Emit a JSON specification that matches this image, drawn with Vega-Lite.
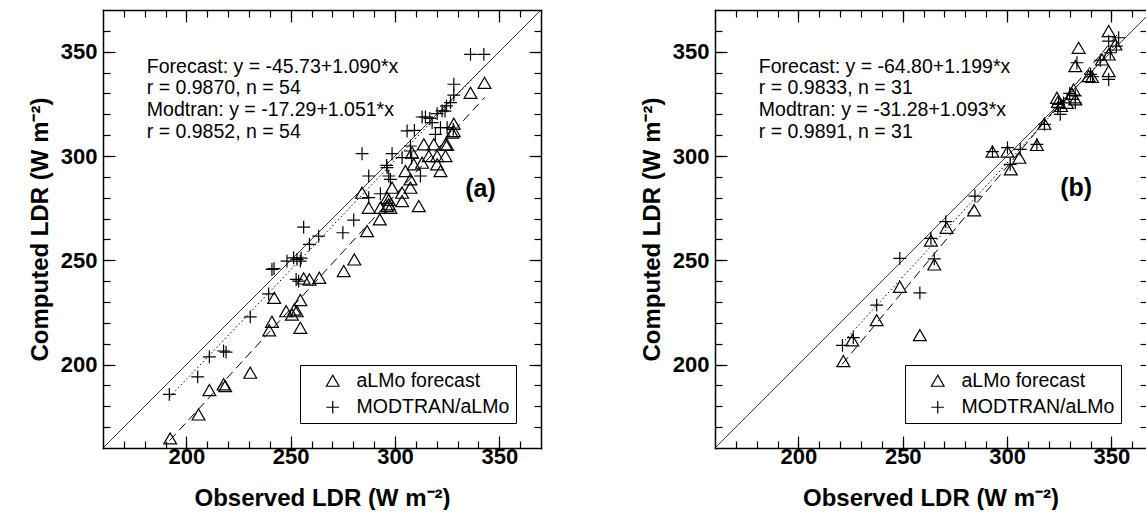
{
  "$schema": "https://vega.github.io/schema/vega-lite/v6.json",
  "background": "white",
  "padding": {"left": 28, "top": 8, "right": 0, "bottom": 0},
  "spacing": 97,
  "config": {
    "view": {"stroke": null},
    "axis": {
      "labelFont": "Liberation Sans", "labelFontSize": 22, "labelFontWeight": "bold", "labelColor": "black",
      "titleFont": "Liberation Sans", "titleFontSize": 24, "titleFontWeight": "bold", "titleColor": "black",
      "domainColor": "black", "domainWidth": 1.5, "domainCap": "square", "tickColor": "black", "tickWidth": 1.2, "grid": false
    },
    "legend": {
      "orient": "bottom-right", "offset": 25, "padding": 6, "strokeColor": "black",
      "labelFont": "Liberation Sans", "labelFontSize": 19.5, "labelColor": "black", "labelLimit": 400,
      "symbolOffset": 17, "labelOffset": 14, "rowPadding": 5.5, "symbolSize": 160, "symbolStrokeWidth": 1.2,
      "symbolStrokeColor": "black", "symbolFillColor": "transparent", "title": null
    }
  },
  "datasets": {
    "a_pts": [
      {"obs": 192.2, "comp": 164.6, "series": "aLMo forecast"},
      {"obs": 205.8, "comp": 176.1, "series": "aLMo forecast"},
      {"obs": 211.0, "comp": 187.8, "series": "aLMo forecast"},
      {"obs": 217.8, "comp": 190.5, "series": "aLMo forecast"},
      {"obs": 218.6, "comp": 189.7, "series": "aLMo forecast"},
      {"obs": 230.6, "comp": 196.1, "series": "aLMo forecast"},
      {"obs": 239.7, "comp": 216.4, "series": "aLMo forecast"},
      {"obs": 241.0, "comp": 220.5, "series": "aLMo forecast"},
      {"obs": 242.1, "comp": 232.0, "series": "aLMo forecast"},
      {"obs": 247.8, "comp": 225.6, "series": "aLMo forecast"},
      {"obs": 250.6, "comp": 224.0, "series": "aLMo forecast"},
      {"obs": 251.7, "comp": 226.4, "series": "aLMo forecast"},
      {"obs": 252.9, "comp": 225.6, "series": "aLMo forecast"},
      {"obs": 254.6, "comp": 230.9, "series": "aLMo forecast"},
      {"obs": 254.6, "comp": 217.6, "series": "aLMo forecast"},
      {"obs": 256.2, "comp": 241.3, "series": "aLMo forecast"},
      {"obs": 259.0, "comp": 240.8, "series": "aLMo forecast"},
      {"obs": 263.7, "comp": 241.6, "series": "aLMo forecast"},
      {"obs": 275.4, "comp": 244.8, "series": "aLMo forecast"},
      {"obs": 280.5, "comp": 250.4, "series": "aLMo forecast"},
      {"obs": 342.9, "comp": 335.1, "series": "aLMo forecast"},
      {"obs": 336.2, "comp": 330.3, "series": "aLMo forecast"},
      {"obs": 328.2, "comp": 315.5, "series": "aLMo forecast"},
      {"obs": 328.2, "comp": 312.0, "series": "aLMo forecast"},
      {"obs": 327.4, "comp": 311.2, "series": "aLMo forecast"},
      {"obs": 324.2, "comp": 305.6, "series": "aLMo forecast"},
      {"obs": 325.0, "comp": 305.3, "series": "aLMo forecast"},
      {"obs": 313.8, "comp": 305.6, "series": "aLMo forecast"},
      {"obs": 318.6, "comp": 305.6, "series": "aLMo forecast"},
      {"obs": 308.2, "comp": 301.6, "series": "aLMo forecast"},
      {"obs": 316.2, "comp": 300.0, "series": "aLMo forecast"},
      {"obs": 320.2, "comp": 300.0, "series": "aLMo forecast"},
      {"obs": 324.2, "comp": 300.0, "series": "aLMo forecast"},
      {"obs": 313.0, "comp": 296.8, "series": "aLMo forecast"},
      {"obs": 320.2, "comp": 296.0, "series": "aLMo forecast"},
      {"obs": 321.8, "comp": 292.8, "series": "aLMo forecast"},
      {"obs": 309.0, "comp": 296.0, "series": "aLMo forecast"},
      {"obs": 305.0, "comp": 292.8, "series": "aLMo forecast"},
      {"obs": 307.4, "comp": 288.8, "series": "aLMo forecast"},
      {"obs": 307.4, "comp": 284.8, "series": "aLMo forecast"},
      {"obs": 303.4, "comp": 282.4, "series": "aLMo forecast"},
      {"obs": 298.6, "comp": 284.8, "series": "aLMo forecast"},
      {"obs": 296.2, "comp": 280.0, "series": "aLMo forecast"},
      {"obs": 297.0, "comp": 276.8, "series": "aLMo forecast"},
      {"obs": 297.8, "comp": 275.2, "series": "aLMo forecast"},
      {"obs": 296.2, "comp": 276.0, "series": "aLMo forecast"},
      {"obs": 303.4, "comp": 278.4, "series": "aLMo forecast"},
      {"obs": 311.4, "comp": 276.0, "series": "aLMo forecast"},
      {"obs": 293.0, "comp": 275.2, "series": "aLMo forecast"},
      {"obs": 284.2, "comp": 282.4, "series": "aLMo forecast"},
      {"obs": 287.4, "comp": 275.2, "series": "aLMo forecast"},
      {"obs": 292.7, "comp": 269.6, "series": "aLMo forecast"},
      {"obs": 286.6, "comp": 264.0, "series": "aLMo forecast"},
      {"obs": 297.0, "comp": 279.0, "series": "aLMo forecast"},
      {"obs": 191.8, "comp": 185.7, "series": "MODTRAN/aLMo"},
      {"obs": 205.4, "comp": 194.1, "series": "MODTRAN/aLMo"},
      {"obs": 211.0, "comp": 203.7, "series": "MODTRAN/aLMo"},
      {"obs": 217.8, "comp": 206.5, "series": "MODTRAN/aLMo"},
      {"obs": 219.0, "comp": 206.0, "series": "MODTRAN/aLMo"},
      {"obs": 230.6, "comp": 222.9, "series": "MODTRAN/aLMo"},
      {"obs": 239.4, "comp": 233.9, "series": "MODTRAN/aLMo"},
      {"obs": 241.0, "comp": 245.6, "series": "MODTRAN/aLMo"},
      {"obs": 242.0, "comp": 246.0, "series": "MODTRAN/aLMo"},
      {"obs": 248.2, "comp": 249.6, "series": "MODTRAN/aLMo"},
      {"obs": 251.4, "comp": 251.2, "series": "MODTRAN/aLMo"},
      {"obs": 253.0, "comp": 250.4, "series": "MODTRAN/aLMo"},
      {"obs": 254.6, "comp": 249.6, "series": "MODTRAN/aLMo"},
      {"obs": 252.6, "comp": 240.8, "series": "MODTRAN/aLMo"},
      {"obs": 253.8, "comp": 240.0, "series": "MODTRAN/aLMo"},
      {"obs": 256.2, "comp": 265.9, "series": "MODTRAN/aLMo"},
      {"obs": 259.0, "comp": 257.6, "series": "MODTRAN/aLMo"},
      {"obs": 263.4, "comp": 261.6, "series": "MODTRAN/aLMo"},
      {"obs": 275.0, "comp": 263.2, "series": "MODTRAN/aLMo"},
      {"obs": 280.2, "comp": 269.3, "series": "MODTRAN/aLMo"},
      {"obs": 336.2, "comp": 348.7, "series": "MODTRAN/aLMo"},
      {"obs": 342.6, "comp": 348.7, "series": "MODTRAN/aLMo"},
      {"obs": 328.2, "comp": 334.4, "series": "MODTRAN/aLMo"},
      {"obs": 328.2, "comp": 329.2, "series": "MODTRAN/aLMo"},
      {"obs": 326.6, "comp": 325.6, "series": "MODTRAN/aLMo"},
      {"obs": 324.7, "comp": 324.0, "series": "MODTRAN/aLMo"},
      {"obs": 322.6, "comp": 321.6, "series": "MODTRAN/aLMo"},
      {"obs": 320.2, "comp": 320.3, "series": "MODTRAN/aLMo"},
      {"obs": 316.7, "comp": 318.0, "series": "MODTRAN/aLMo"},
      {"obs": 313.0, "comp": 318.7, "series": "MODTRAN/aLMo"},
      {"obs": 314.6, "comp": 318.7, "series": "MODTRAN/aLMo"},
      {"obs": 317.8, "comp": 316.0, "series": "MODTRAN/aLMo"},
      {"obs": 305.8, "comp": 312.0, "series": "MODTRAN/aLMo"},
      {"obs": 309.3, "comp": 312.3, "series": "MODTRAN/aLMo"},
      {"obs": 321.8, "comp": 313.6, "series": "MODTRAN/aLMo"},
      {"obs": 325.0, "comp": 313.6, "series": "MODTRAN/aLMo"},
      {"obs": 327.9, "comp": 312.8, "series": "MODTRAN/aLMo"},
      {"obs": 319.4, "comp": 310.4, "series": "MODTRAN/aLMo"},
      {"obs": 284.2, "comp": 301.1, "series": "MODTRAN/aLMo"},
      {"obs": 298.6, "comp": 301.1, "series": "MODTRAN/aLMo"},
      {"obs": 303.4, "comp": 299.2, "series": "MODTRAN/aLMo"},
      {"obs": 307.4, "comp": 302.4, "series": "MODTRAN/aLMo"},
      {"obs": 307.4, "comp": 304.8, "series": "MODTRAN/aLMo"},
      {"obs": 296.2, "comp": 294.4, "series": "MODTRAN/aLMo"},
      {"obs": 297.0, "comp": 290.4, "series": "MODTRAN/aLMo"},
      {"obs": 297.8, "comp": 288.8, "series": "MODTRAN/aLMo"},
      {"obs": 287.4, "comp": 290.4, "series": "MODTRAN/aLMo"},
      {"obs": 312.2, "comp": 290.4, "series": "MODTRAN/aLMo"},
      {"obs": 293.0, "comp": 281.9, "series": "MODTRAN/aLMo"},
      {"obs": 287.4, "comp": 280.0, "series": "MODTRAN/aLMo"},
      {"obs": 296.0, "comp": 295.5, "series": "MODTRAN/aLMo"},
      {"obs": 255.0, "comp": 251.0, "series": "MODTRAN/aLMo"},
      {"obs": 308.0, "comp": 299.0, "series": "MODTRAN/aLMo"},
      {"obs": 324.0, "comp": 321.5, "series": "MODTRAN/aLMo"}
    ],
    "b_pts": [
      {"obs": 221.5, "comp": 201.7, "series": "aLMo forecast"},
      {"obs": 225.8, "comp": 211.6, "series": "aLMo forecast"},
      {"obs": 237.5, "comp": 221.3, "series": "aLMo forecast"},
      {"obs": 248.6, "comp": 237.3, "series": "aLMo forecast"},
      {"obs": 258.2, "comp": 214.1, "series": "aLMo forecast"},
      {"obs": 265.1, "comp": 248.0, "series": "aLMo forecast"},
      {"obs": 263.5, "comp": 259.5, "series": "aLMo forecast"},
      {"obs": 271.0, "comp": 265.6, "series": "aLMo forecast"},
      {"obs": 284.2, "comp": 274.0, "series": "aLMo forecast"},
      {"obs": 293.0, "comp": 302.1, "series": "aLMo forecast"},
      {"obs": 300.2, "comp": 302.1, "series": "aLMo forecast"},
      {"obs": 301.8, "comp": 293.6, "series": "aLMo forecast"},
      {"obs": 305.9, "comp": 299.2, "series": "aLMo forecast"},
      {"obs": 314.3, "comp": 305.3, "series": "aLMo forecast"},
      {"obs": 317.9, "comp": 315.5, "series": "aLMo forecast"},
      {"obs": 323.9, "comp": 327.9, "series": "aLMo forecast"},
      {"obs": 324.4, "comp": 326.0, "series": "aLMo forecast"},
      {"obs": 325.9, "comp": 324.0, "series": "aLMo forecast"},
      {"obs": 328.7, "comp": 325.5, "series": "aLMo forecast"},
      {"obs": 331.9, "comp": 331.9, "series": "aLMo forecast"},
      {"obs": 332.7, "comp": 327.2, "series": "aLMo forecast"},
      {"obs": 334.3, "comp": 351.9, "series": "aLMo forecast"},
      {"obs": 332.7, "comp": 343.1, "series": "aLMo forecast"},
      {"obs": 339.1, "comp": 338.3, "series": "aLMo forecast"},
      {"obs": 340.7, "comp": 337.9, "series": "aLMo forecast"},
      {"obs": 345.5, "comp": 346.3, "series": "aLMo forecast"},
      {"obs": 348.7, "comp": 348.7, "series": "aLMo forecast"},
      {"obs": 348.7, "comp": 340.7, "series": "aLMo forecast"},
      {"obs": 348.7, "comp": 359.9, "series": "aLMo forecast"},
      {"obs": 351.9, "comp": 353.5, "series": "aLMo forecast"},
      {"obs": 331.1, "comp": 329.8, "series": "aLMo forecast"},
      {"obs": 221.1, "comp": 209.2, "series": "MODTRAN/aLMo"},
      {"obs": 226.3, "comp": 212.9, "series": "MODTRAN/aLMo"},
      {"obs": 237.5, "comp": 228.5, "series": "MODTRAN/aLMo"},
      {"obs": 248.6, "comp": 250.9, "series": "MODTRAN/aLMo"},
      {"obs": 258.2, "comp": 234.4, "series": "MODTRAN/aLMo"},
      {"obs": 265.1, "comp": 250.7, "series": "MODTRAN/aLMo"},
      {"obs": 263.5, "comp": 260.5, "series": "MODTRAN/aLMo"},
      {"obs": 270.6, "comp": 268.5, "series": "MODTRAN/aLMo"},
      {"obs": 284.6, "comp": 280.8, "series": "MODTRAN/aLMo"},
      {"obs": 293.0, "comp": 302.1, "series": "MODTRAN/aLMo"},
      {"obs": 300.2, "comp": 304.0, "series": "MODTRAN/aLMo"},
      {"obs": 301.5, "comp": 296.0, "series": "MODTRAN/aLMo"},
      {"obs": 306.3, "comp": 303.2, "series": "MODTRAN/aLMo"},
      {"obs": 314.3, "comp": 305.6, "series": "MODTRAN/aLMo"},
      {"obs": 317.9, "comp": 315.2, "series": "MODTRAN/aLMo"},
      {"obs": 324.3, "comp": 323.2, "series": "MODTRAN/aLMo"},
      {"obs": 325.5, "comp": 320.0, "series": "MODTRAN/aLMo"},
      {"obs": 327.1, "comp": 325.5, "series": "MODTRAN/aLMo"},
      {"obs": 332.7, "comp": 328.8, "series": "MODTRAN/aLMo"},
      {"obs": 332.7, "comp": 325.5, "series": "MODTRAN/aLMo"},
      {"obs": 333.5, "comp": 344.7, "series": "MODTRAN/aLMo"},
      {"obs": 340.0, "comp": 339.1, "series": "MODTRAN/aLMo"},
      {"obs": 344.7, "comp": 345.9, "series": "MODTRAN/aLMo"},
      {"obs": 348.7, "comp": 355.1, "series": "MODTRAN/aLMo"},
      {"obs": 348.7, "comp": 336.7, "series": "MODTRAN/aLMo"},
      {"obs": 353.5, "comp": 356.7, "series": "MODTRAN/aLMo"},
      {"obs": 352.4, "comp": 352.7, "series": "MODTRAN/aLMo"},
      {"obs": 349.5, "comp": 349.5, "series": "MODTRAN/aLMo"},
      {"obs": 324.7, "comp": 324.7, "series": "MODTRAN/aLMo"},
      {"obs": 341.0, "comp": 338.0, "series": "MODTRAN/aLMo"},
      {"obs": 330.0, "comp": 330.0, "series": "MODTRAN/aLMo"}
    ],
    "a_lines": [
      {"obs": 160, "comp": 160, "k": "one"},
      {"obs": 370, "comp": 370, "k": "one"},
      {"obs": 192, "comp": 184.5, "k": "mod"},
      {"obs": 343, "comp": 343.2, "k": "mod"},
      {"obs": 192, "comp": 163.6, "k": "fc"},
      {"obs": 343, "comp": 328.1, "k": "fc"}
    ],
    "b_lines": [
      {"obs": 160, "comp": 160, "k": "one"},
      {"obs": 366.6, "comp": 366.6, "k": "one"},
      {"obs": 221, "comp": 210.3, "k": "mod"},
      {"obs": 354, "comp": 355.6, "k": "mod"},
      {"obs": 221, "comp": 200.2, "k": "fc"},
      {"obs": 354, "comp": 359.6, "k": "fc"}
    ]
  },
  "resolve": {
    "scale": {"x": "independent", "y": "independent", "shape": "independent", "strokeDash": "independent"},
    "legend": {"shape": "independent"}
  },
  "hconcat": [
    {
      "width": 438, "height": 438,
      "resolve": {"axis": {"x": "independent", "y": "independent"}},
      "layer": [
        {
          "data": {"name": "a_lines"},
          "mark": {"type": "line", "color": "black", "strokeWidth": 1},
          "encoding": {
            "x": {"field": "obs", "type": "quantitative", "scale": {"domain": [160, 370], "nice": false, "zero": false},
              "axis": {"orient": "top", "title": null, "labels": false, "tickSize": -7, "values": [170,180,190,200,210,220,230,240,250,260,270,280,290,300,310,320,330,340,350,360]}},
            "y": {"field": "comp", "type": "quantitative", "scale": {"domain": [160, 370], "nice": false, "zero": false},
              "axis": {"orient": "right", "title": null, "labels": false, "tickSize": -7, "values": [170,180,190,200,210,220,230,240,250,260,270,280,290,300,310,320,330,340,350,360]}},
            "strokeDash": {"field": "k", "type": "nominal", "scale": {"domain": ["one", "mod", "fc"], "range": [[1, 0], [1.5, 2.5], [9, 5]]}, "legend": null}
          }
        },
        {
          "data": {"name": "a_pts"},
          "mark": {"type": "point", "filled": false, "stroke": "black", "strokeWidth": 1.2, "opacity": 1, "size": 165},
          "encoding": {
            "x": {"field": "obs", "type": "quantitative", "scale": {"domain": [160, 370], "nice": false, "zero": false},
              "axis": {"orient": "bottom", "title": "Observed LDR (W m⁻²)", "titlePadding": 19, "labelPadding": 5, "tickSize": -7, "values": [170,180,190,200,210,220,230,240,250,260,270,280,290,300,310,320,330,340,350,360],
                "labelExpr": "datum.value % 50 === 0 ? datum.label : ''"}},
            "y": {"field": "comp", "type": "quantitative", "scale": {"domain": [160, 370], "nice": false, "zero": false},
              "axis": {"orient": "left", "title": "Computed LDR (W m⁻²)", "titlePadding": 8, "labelPadding": 13, "tickSize": -7, "values": [170,180,190,200,210,220,230,240,250,260,270,280,290,300,310,320,330,340,350,360],
                "labelExpr": "datum.value % 50 === 0 ? datum.label : ''"}},
            "shape": {"field": "series", "type": "nominal", "scale": {"domain": ["aLMo forecast", "MODTRAN/aLMo"], "range": ["triangle-up", "M-1,0H1M0,-1V1"]}}
          }
        },
        {
          "data": {"values": [{"panel": "a"}]},
          "mark": {"type": "text", "align": "left", "baseline": "alphabetic", "font": "Liberation Sans", "fontSize": 19.5, "lineHeight": 21.7, "color": "black"},
          "encoding": {
            "x": {"datum": 181, "type": "quantitative", "scale": {"domain": [160, 370], "nice": false, "zero": false},
              "axis": {"orient": "bottom", "title": null, "labels": false, "domain": false, "tickSize": -12, "values": [200, 250, 300, 350]}},
            "y": {"datum": 339.9, "type": "quantitative", "scale": {"domain": [160, 370], "nice": false, "zero": false},
              "axis": {"orient": "left", "title": null, "labels": false, "domain": false, "tickSize": -12, "values": [200, 250, 300, 350]}},
            "text": {"value": ["Forecast: y = -45.73+1.090*x", "r = 0.9870, n = 54", "Modtran: y = -17.29+1.051*x", "r = 0.9852, n = 54"]}
          }
        },
        {
          "data": {"values": [{"panel": "a"}]},
          "mark": {"type": "text", "align": "center", "baseline": "middle", "font": "Liberation Sans", "fontSize": 25, "fontWeight": "bold", "color": "black"},
          "encoding": {
            "x": {"datum": 341, "type": "quantitative", "scale": {"domain": [160, 370], "nice": false, "zero": false},
              "axis": {"orient": "top", "title": null, "labels": false, "domain": false, "tickSize": -12, "values": [200, 250, 300, 350]}},
            "y": {"datum": 284.1, "type": "quantitative", "scale": {"domain": [160, 370], "nice": false, "zero": false},
              "axis": {"orient": "right", "title": null, "labels": false, "domain": false, "tickSize": -12, "values": [200, 250, 300, 350]}},
            "text": {"value": "(a)"}
          }
        }
      ]
    },
    {
      "width": 431, "height": 438,
      "resolve": {"axis": {"x": "independent", "y": "independent"}},
      "layer": [
        {
          "data": {"name": "b_lines"},
          "mark": {"type": "line", "color": "black", "strokeWidth": 1},
          "encoding": {
            "x": {"field": "obs", "type": "quantitative", "scale": {"domain": [160, 366.6], "nice": false, "zero": false},
              "axis": {"orient": "top", "title": null, "labels": false, "tickSize": -7, "values": [170,180,190,200,210,220,230,240,250,260,270,280,290,300,310,320,330,340,350,360]}},
            "y": {"field": "comp", "type": "quantitative", "scale": {"domain": [160, 370], "nice": false, "zero": false},
              "axis": {"orient": "right", "title": null, "labels": false, "domain": false, "tickSize": -6, "values": [170,180,190,200,210,220,230,240,250,260,270,280,290,300,310,320,330,340,350,360]}},
            "strokeDash": {"field": "k", "type": "nominal", "scale": {"domain": ["one", "mod", "fc"], "range": [[1, 0], [1.5, 2.5], [9, 5]]}, "legend": null}
          }
        },
        {
          "data": {"name": "b_pts"},
          "mark": {"type": "point", "filled": false, "stroke": "black", "strokeWidth": 1.2, "opacity": 1, "size": 165},
          "encoding": {
            "x": {"field": "obs", "type": "quantitative", "scale": {"domain": [160, 366.6], "nice": false, "zero": false},
              "axis": {"orient": "bottom", "title": "Observed LDR (W m⁻²)", "titlePadding": 19, "labelPadding": 5, "tickSize": -7, "values": [170,180,190,200,210,220,230,240,250,260,270,280,290,300,310,320,330,340,350,360],
                "labelExpr": "datum.value % 50 === 0 ? datum.label : ''"}},
            "y": {"field": "comp", "type": "quantitative", "scale": {"domain": [160, 370], "nice": false, "zero": false},
              "axis": {"orient": "left", "title": "Computed LDR (W m⁻²)", "titlePadding": 8, "labelPadding": 13, "tickSize": -7, "values": [170,180,190,200,210,220,230,240,250,260,270,280,290,300,310,320,330,340,350,360],
                "labelExpr": "datum.value % 50 === 0 ? datum.label : ''"}},
            "shape": {"field": "series", "type": "nominal", "scale": {"domain": ["aLMo forecast", "MODTRAN/aLMo"], "range": ["triangle-up", "M-1,0H1M0,-1V1"]}}
          }
        },
        {
          "data": {"values": [{"panel": "b"}]},
          "mark": {"type": "text", "align": "left", "baseline": "alphabetic", "font": "Liberation Sans", "fontSize": 19.5, "lineHeight": 21.7, "color": "black"},
          "encoding": {
            "x": {"datum": 181, "type": "quantitative", "scale": {"domain": [160, 366.6], "nice": false, "zero": false},
              "axis": {"orient": "bottom", "title": null, "labels": false, "domain": false, "tickSize": -12, "values": [200, 250, 300, 350]}},
            "y": {"datum": 339.9, "type": "quantitative", "scale": {"domain": [160, 370], "nice": false, "zero": false},
              "axis": {"orient": "left", "title": null, "labels": false, "domain": false, "tickSize": -12, "values": [200, 250, 300, 350]}},
            "text": {"value": ["Forecast: y = -64.80+1.199*x", "r = 0.9833, n = 31", "Modtran: y = -31.28+1.093*x", "r = 0.9891, n = 31"]}
          }
        },
        {
          "data": {"values": [{"panel": "b"}]},
          "mark": {"type": "text", "align": "center", "baseline": "middle", "font": "Liberation Sans", "fontSize": 25, "fontWeight": "bold", "color": "black"},
          "encoding": {
            "x": {"datum": 333.1, "type": "quantitative", "scale": {"domain": [160, 366.6], "nice": false, "zero": false},
              "axis": {"orient": "top", "title": null, "labels": false, "domain": false, "tickSize": -12, "values": [200, 250, 300, 350]}},
            "y": {"datum": 284.8, "type": "quantitative", "scale": {"domain": [160, 370], "nice": false, "zero": false}, "axis": null},
            "text": {"value": "(b)"}
          }
        }
      ]
    }
  ]
}
